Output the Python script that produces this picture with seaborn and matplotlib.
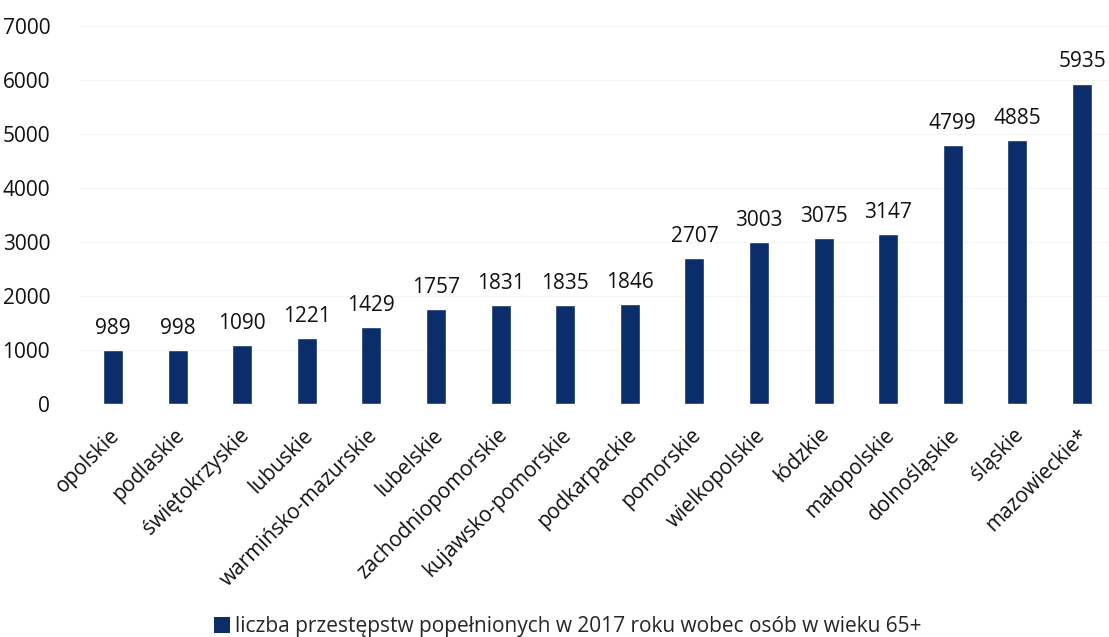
import matplotlib
matplotlib.use("Agg")
import matplotlib.pyplot as plt
import matplotlib.transforms as mtransforms
import seaborn as sns
import pandas as pd
from matplotlib.patches import Patch

regions = ["opolskie", "podlaskie", "świętokrzyskie", "lubuskie", "warmińsko-mazurskie",
           "lubelskie", "zachodniopomorskie", "kujawsko-pomorskie", "podkarpackie", "pomorskie",
           "wielkopolskie", "łódzkie", "małopolskie", "dolnośląskie", "śląskie", "mazowieckie*"]
values = [989, 998, 1090, 1221, 1429, 1757, 1831, 1835, 1846, 2707,
          3003, 3075, 3147, 4799, 4885, 5935]
y_ticks = [0, 1000, 2000, 3000, 4000, 5000, 6000, 7000]
series_name = "liczba przestępstw popełnionych w 2017 roku wobec osób w wieku 65+"

bar_color = "#0B2E6B"
text_color = "#111111"

sns.set_theme(style="white")
plt.rcParams["font.family"] = ["Open Sans", "DejaVu Sans"]

df = pd.DataFrame({"region": regions, "value": values})

fig = plt.figure(figsize=(11.09, 6.37), dpi=100)
ax = fig.add_axes([0.0728, 0.366, 0.932, 0.593])

sns.barplot(data=df, x="region", y="value", color=bar_color, saturation=1,
            width=0.31, ax=ax)

ax.set_ylim(0, 7000)
ax.set_xlim(-0.5, len(regions) - 0.5)
ax.set_yticks(y_ticks)
ax.set_yticklabels([str(t) for t in y_ticks], fontsize=15, color=text_color)
ax.tick_params(axis="y", length=0, pad=22)
ax.tick_params(axis="x", length=0, pad=15)
for t in y_ticks[1:]:
    ax.axhline(t, color="#f4f4f4", lw=0.8, zorder=0)
ax.set_xlabel("")
ax.set_ylabel("")
for s in ax.spines.values():
    s.set_visible(False)

ax.set_xticks(range(len(regions)))
ax.set_xticklabels(regions, rotation=45, ha="right", va="top",
                   rotation_mode="anchor", fontsize=15, color=text_color)
shift = mtransforms.ScaledTranslation(-4 / 100, 0, fig.dpi_scale_trans)
for lbl in ax.get_xticklabels():
    lbl.set_transform(lbl.get_transform() + shift)

for i, v in enumerate(values):
    ax.annotate(str(v), xy=(i, v), xytext=(0, 8), textcoords="offset points",
                ha="center", va="bottom", fontsize=15, color=text_color)

handle = Patch(facecolor=bar_color, edgecolor="none")
fig.legend([handle], [series_name], loc="lower center", bbox_to_anchor=(0.512, -0.03),
           frameon=False, fontsize=15, handlelength=0.75, handleheight=0.75,
           handletextpad=0.25)

fig.savefig("out.png", dpi=100)
